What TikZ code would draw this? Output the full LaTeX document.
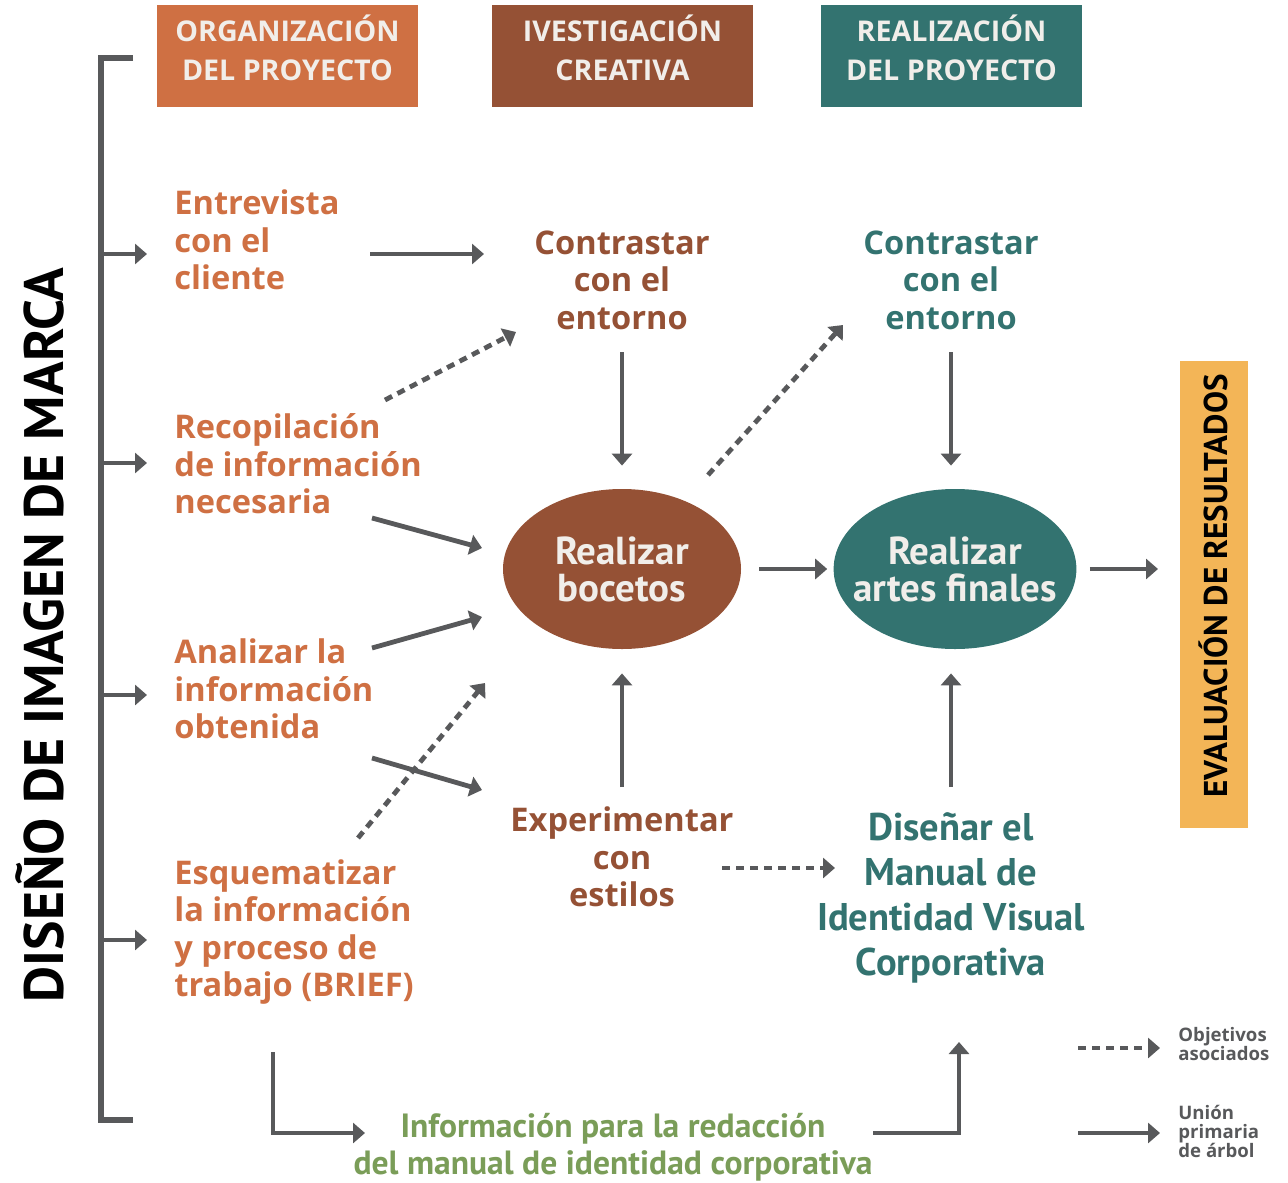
\documentclass[tikz,border=0pt]{standalone}
\usepackage{fontspec}
\setmainfont{Open Sans}
\newfontfamily\narrowfont{PT Sans}
\usetikzlibrary{calc}
\usetikzlibrary{arrows.meta}
\usetikzlibrary{shapes.geometric}

\definecolor{orgcol}{HTML}{CF7043}
\definecolor{invcol}{HTML}{955135}
\definecolor{realcol}{HTML}{337370}
\definecolor{evalcol}{HTML}{F3B557}
\definecolor{infocol}{HTML}{7A9D58}
\definecolor{arrcol}{HTML}{58595B}
\definecolor{headtxt}{HTML}{F1EEEA}

\tikzset{
 arr/.style={arrcol, line width=2.4pt, -{Triangle[length=6pt,width=10pt]}},
 darr/.style={arr, dash pattern=on 4pt off 3pt},
 head/.style={fill=#1, text=headtxt, minimum width=130.5pt, minimum height=51pt, inner sep=0, align=center, font=\fontsize{14.3}{19.5}\selectfont\bfseries},
 lefttxt/.style={anchor=west, inner sep=0, align=left, text=orgcol, font=\fontsize{16.3}{18.75}\selectfont\bfseries},
 midtxt/.style={inner sep=0, align=center, text=#1, font=\fontsize{16.3}{18.75}\selectfont\bfseries},
 blob/.style={ellipse, fill=#1, text=headtxt, minimum width=119pt, minimum height=80pt, inner xsep=-8pt, inner ysep=0, align=center, font=\narrowfont\fontsize{19.5}{18.5}\selectfont\bfseries},
 legtxt/.style={anchor=west, inner sep=0, align=left, text=arrcol, font=\fontsize{9.3}{9.5}\selectfont\bfseries}
}

\begin{document}
\begin{tikzpicture}[x=0.5pt, y=-0.5pt]
\useasboundingbox (0,0) rectangle (1288,1182);

% column headers
\node[head=orgcol] (h1) at (287.5,56) {ORGANIZACIÓN\\DEL PROYECTO\rule[-8pt]{0pt}{0pt}};
\node[head=invcol] (h2) at (622.5,56) {IVESTIGACIÓN\\CREATIVA\rule[-8pt]{0pt}{0pt}};
\node[head=realcol] (h3) at (951.5,56) {REALIZACIÓN\\DEL PROYECTO\rule[-8pt]{0pt}{0pt}};

% side titles
\node[rotate=90, inner sep=0, font=\narrowfont\fontsize{27.8}{27.8}\selectfont\bfseries] (title) at (40,635) {DISEÑO DE IMAGEN DE MARCA};
\node[rotate=90, fill=evalcol, minimum width=233.5pt, minimum height=34pt, inner sep=0, font=\narrowfont\fontsize{16.5}{16.5}\selectfont\bfseries] (eval) at (1213.5,594) {\hspace*{8pt}EVALUACIÓN DE RESULTADOS};

% first column
\node[lefttxt] (ent) at (174,240) {Entrevista\\con el\\cliente};
\node[lefttxt] (rec) at (174,464) {Recopilación\\de información\\necesaria};
\node[lefttxt] (ana) at (174,689) {Analizar la\\información\\obtenida};
\node[lefttxt] (esq) at (174,932) {Esquematizar\\la información\\y proceso de\\trabajo (BRIEF)};

% second and third column
\node[midtxt=invcol] (con1) at (622,280) {Contrastar\\con el\\entorno};
\node[midtxt=realcol] (con2) at (951,280) {Contrastar\\con el\\entorno};
\node[blob=invcol] (bocetos) at (622,569) {Realizar\\bocetos};
\node[blob=realcol] (artes) at (955,569) {Realizar\\artes finales};
\node[midtxt=invcol] (exp) at (622,857) {Experimentar\\con\\estilos};
\node[midtxt=realcol, font=\narrowfont\fontsize{19.3}{22.5}\selectfont\bfseries] (dis) at (951,897.5) {Diseñar el\\Manual de\\Identidad Visual\\Corporativa};
\node[midtxt=infocol, font=\narrowfont\fontsize{16.8}{18.5}\selectfont\bfseries] (info) at (613,1147) {Información para la redacción\\del manual de identidad corporativa};

% legend
\node[legtxt] (leg1) at (1178,1044.5) {Objetivos\\asociados};
\node[legtxt] (leg2) at (1178,1131) {Unión\\primaria\\de árbol};

% bracket
\draw[arrcol, line width=2.6pt] (133,58) -| (101,1120) -- (133,1120);
\foreach \n/\d in {ent/14, rec/-1, ana/6, esq/8} {
 \draw[arr] ($(\n.west)+(-73,\d)$) -- ($(\n.west)+(-27,\d)$);
}

% connectors
\draw[arr] ($(ent.west)+(196,14)$) -- ($(con1.center)+(-138,-26)$);
\draw[darr] ($(rec.west)+(211,-64)$) -- ($(con1.center)+(-106,52)$);
\draw[arr] ($(con1.center)+(0,72)$) -- ($(bocetos.north)+(0,-23)$);
\draw[darr] ($(bocetos.center)+(86,-94)$) -- ($(con2.center)+(-108,45)$);
\draw[arr] ($(con2.center)+(0,72)$) -- ($(artes.north)+(-4,-23)$);
\draw[arr] ($(rec.west)+(198,54)$) -- ($(bocetos.center)+(-140,-21)$);
\draw[arr] ($(ana.west)+(198,-41)$) -- ($(bocetos.center)+(-140,48)$);
\draw[darr] ($(esq.west)+(184,-94)$) -- ($(bocetos.center)+(-137,114)$);
\draw[arr] ($(ana.west)+(198,69)$) -- ($(exp.center)+(-140,-67)$);
\draw[arr] ($(exp.center)+(0,-70)$) -- ($(bocetos.south)+(0,24)$);
\draw[arr] ($(bocetos.east)+(18,0)$) -- ($(artes.west)+(-6,0)$);
\draw[arr] ($(artes.east)+(13,0)$) -- ($(eval.center)+(-55.5,-25)$);
\draw[darr] ($(exp.center)+(100,11)$) -- ($(dis.center)+(-116,-29.5)$);
\draw[arr] ($(dis.center)+(0,-110.5)$) -- ($(artes.south)+(-4,24)$);
\draw[arr] ($(esq.west)+(99,120)$) |- ($(info.center)+(-248,-14)$);
\draw[arr] ($(info.center)+(260,-14)$) -| ($(dis.center)+(8,144.5)$);

% legend arrows
\draw[darr, line width=1.8pt] ($(leg1.west)+(-100,3.5)$) -- ($(leg1.west)+(-18,3.5)$);
\draw[arr, line width=1.8pt] ($(leg2.west)+(-100,2)$) -- ($(leg2.west)+(-18,2)$);
\end{tikzpicture}
\end{document}
